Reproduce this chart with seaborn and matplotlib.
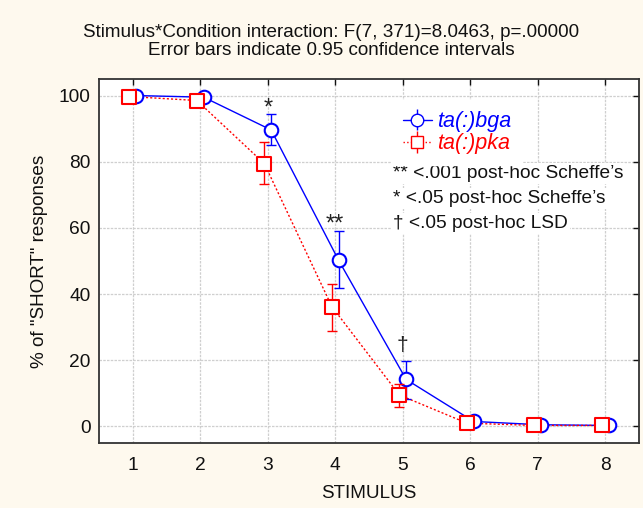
import numpy as np
import pandas as pd
import matplotlib
matplotlib.use("Agg")
import matplotlib.pyplot as plt
import seaborn as sns

stimulus = [1, 2, 3, 4, 5, 6, 7, 8]
bga_mean = [100.0, 99.5, 89.6, 50.2, 14.2, 1.5, 0.5, 0.3]
bga_low = [100.0, 99.5, 85.0, 41.8, 8.2, 1.5, 0.5, 0.3]
bga_high = [100.0, 99.5, 94.4, 59.0, 19.8, 1.5, 0.5, 0.3]
pka_mean = [99.7, 98.5, 79.4, 36.2, 9.5, 1.0, 0.3, 0.3]
pka_low = [99.7, 98.5, 73.3, 28.9, 5.9, 1.0, 0.3, 0.3]
pka_high = [99.7, 98.5, 86.0, 43.1, 12.9, 1.0, 0.3, 0.3]
conditions = ["ta(:)bga", "ta(:)pka"]
sig_marks = {3: "*", 4: "**", 5: "\u2020"}
sig_y = [96.0, 61.0, 24.5]
notes = ["** <.001 post-hoc Scheffe\u2019s", "* <.05 post-hoc Scheffe\u2019s", "\u2020 <.05 post-hoc LSD"]
title_lines = ["Stimulus*Condition interaction: F(7, 371)=8.0463, p=.00000",
               "Error bars indicate 0.95 confidence intervals"]

sns.set_theme(style="white")
plt.rcParams["font.family"] = ["Liberation Sans", "DejaVu Sans"]

bg = "#FEF9EE"
fig = plt.figure(figsize=(6.43, 5.08), dpi=100, facecolor=bg)
ax = fig.add_axes([0.154, 0.128, 0.8398, 0.7165])
ax.set_facecolor("white")

dodge = 0.05
df = pd.DataFrame({
    "x": np.r_[np.array(stimulus) + dodge, np.array(stimulus) - dodge],
    "y": np.r_[bga_mean, pka_mean],
    "cond": [conditions[0]] * 8 + [conditions[1]] * 8,
})

colors = {"ta(:)bga": "#0000FF", "ta(:)pka": "#FF0000"}

sns.lineplot(data=df[df.cond == conditions[0]], x="x", y="y", color=colors[conditions[0]],
             lw=1.0, ax=ax, legend=False, zorder=3)
sns.lineplot(data=df[df.cond == conditions[1]], x="x", y="y", color=colors[conditions[1]],
             lw=1.0, ls=(0, (1.5, 1.5)), ax=ax, legend=False, zorder=4)

handles = []
for cond, mean, lo, hi, mk, ls, z in [
    (conditions[0], bga_mean, bga_low, bga_high, "o", "-", 5),
    (conditions[1], pka_mean, pka_low, pka_high, "s", ":", 6),
]:
    sub = df[df.cond == cond]
    m = np.array(mean)
    yerr = np.vstack([m - np.array(lo), np.array(hi) - m])
    c = colors[cond]
    ax.errorbar(sub["x"], m, yerr=yerr, fmt="none", ecolor=c, elinewidth=1.0,
                capsize=3.5, capthick=1.0, zorder=z)
    sns.scatterplot(x=sub["x"], y=m, marker=mk, s=95, facecolor="white",
                    edgecolor=c, linewidth=1.5, ax=ax, zorder=z + 1, legend=False)
    h = ax.errorbar([], [], yerr=[], fmt=mk, ls=ls, color=c, mfc="white", mec=c,
                    ms=9, lw=1.0, capsize=4)
    handles.append(h)

for (s, mark), yv in zip(sig_marks.items(), sig_y):
    ax.text(s, yv, mark, ha="center", va="center", fontsize=17 if mark != "\u2020" else 15,
            color="#222222")

leg = ax.legend(handles, conditions, loc="upper left", bbox_to_anchor=(0.5426, 0.941),
                borderaxespad=0, frameon=True, facecolor="white", edgecolor="white",
                framealpha=1, fontsize=15.5, handlelength=1.35, handletextpad=0.25,
                borderpad=0.5, labelspacing=0.05)
for t, c in zip(leg.get_texts(), [colors[conditions[0]], colors[conditions[1]]]):
    t.set_color(c)
    t.set_fontstyle("italic")

for i, n in enumerate(notes):
    ax.text(0.544, 0.741 - i * 0.0687, n, transform=ax.transAxes, fontsize=13.8,
            ha="left", va="center", color="#111111",
            bbox=dict(facecolor="white", edgecolor="none", pad=1.5))

ax.set_xlim(0.5, 8.5)
ax.set_ylim(-5, 105)
ax.set_xticks(stimulus)
ax.set_yticks([0, 20, 40, 60, 80, 100])
ax.grid(True, color="#CFCFCF", lw=0.9, ls=(0, (2, 1)))
ax.set_axisbelow(True)
ax.tick_params(direction="in", length=4, width=1, top=True, right=True,
               labelsize=13.8, colors="#111111", pad=6)
ax.tick_params(axis="x", pad=10)
for sp in ax.spines.values():
    sp.set_color("#333333")
    sp.set_linewidth(1.3)
    sp.set_visible(True)

ax.set_xlabel("STIMULUS", fontsize=13.6, labelpad=8, color="#111111")
ax.set_ylabel("% of \"SHORT\" responses", fontsize=13.6, labelpad=8, color="#111111")
for i, line in enumerate(title_lines):
    fig.text(0.515, 1 - (32.5 + 18 * i) / 508, line, ha="center", va="center",
             fontsize=13.6, color="#111111")

fig.savefig("out.png", dpi=100, facecolor=bg)
